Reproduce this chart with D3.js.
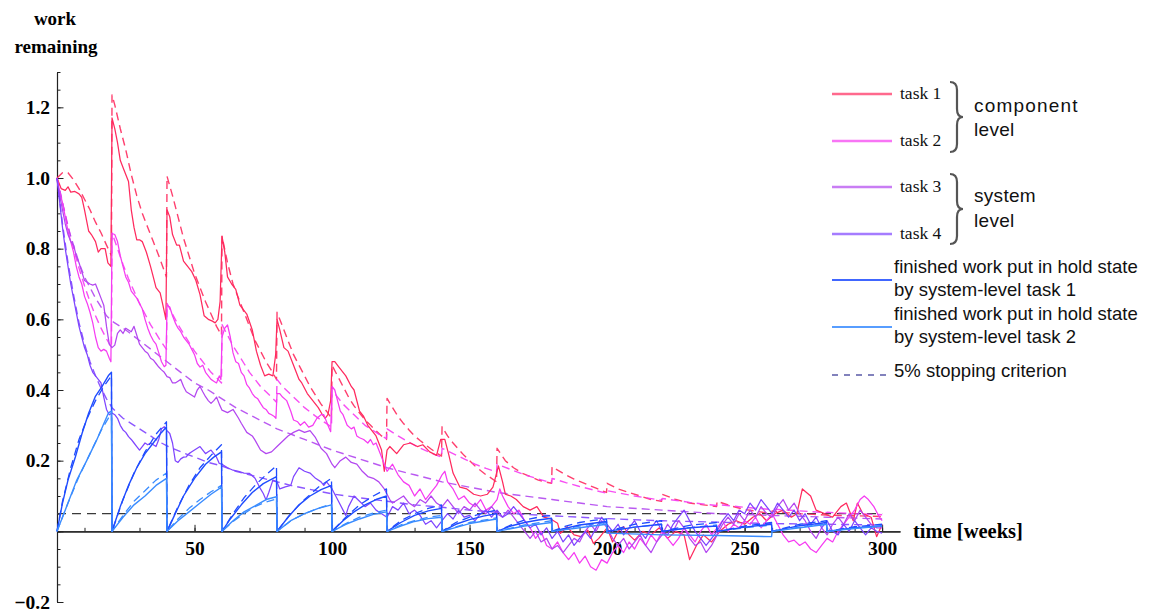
<!DOCTYPE html>
<html>
<head>
<meta charset="utf-8">
<script src="https://cdn.jsdelivr.net/npm/d3@7"></script>
<style>
  html, body { margin: 0; padding: 0; background: #fff; }
  svg { display: block; }
</style>
</head>
<body>
<svg id="chart" width="1154" height="612"></svg>
<script>
// ---- data: work remaining per week (simulation = solid, expected = dashed) ----
const task1Sim = [[0,1.00],[1.5,0.97],[3,0.965],[4,0.975],[5,0.96],[6.5,0.962],[8,0.955],[9,0.945],[10,0.91],[11.5,0.85],[12.5,0.84],[14,0.82],[15,0.79],[16,0.80],[17.5,0.80],[18.5,0.76],[19.6,0.75],
  [20,1.17],[21,1.14],[22,1.10],[23,1.05],[24,1.03],[25,1.01],[26,0.99],[27,0.91],[28,0.86],[29,0.825],[30,0.825],[31,0.82],[32.5,0.79],[34,0.75],[35,0.72],[36,0.69],[37.5,0.675],[38.5,0.64],[39.6,0.60],
  [40,0.91],[41,0.89],[42,0.84],[43.5,0.81],[44.5,0.81],[46,0.765],[47.5,0.75],[49,0.735],[50.5,0.71],[52,0.67],[53.5,0.61],[55,0.60],[56.5,0.595],[57.5,0.59],[58.5,0.60],[59.3,0.65],
  [60,0.835],[61,0.79],[62,0.72],[63.5,0.70],[65,0.685],[66.5,0.64],[69,0.615],[71,0.57],[72.5,0.51],[74,0.47],[75.5,0.44],[77,0.445],[78.5,0.44],[79.5,0.50],
  [80,0.60],[81,0.57],[82.5,0.52],[84,0.51],[86,0.47],[88,0.43],[89,0.42],[91,0.39],[93,0.37],[95,0.35],[96.5,0.33],[97.5,0.32],[98.5,0.33],[99.5,0.37],
  [100,0.48],[101,0.48],[102.5,0.465],[105,0.44],[107,0.41],[108,0.40],[110,0.34],[111.5,0.325],[113,0.30],[116,0.27],[118,0.23],[119,0.17],
  [120,0.23],[121,0.24],[123.5,0.22],[126,0.245],[128.5,0.25],[131,0.24],[133,0.245],[135.5,0.225],[138,0.215],[139.5,0.26],[141,0.26],[142.5,0.215],[144,0.165],[146.5,0.125],[149,0.12],[151.5,0.105],[154,0.10],[156.5,0.105],[158.5,0.125],[159.5,0.155],
  [160.5,0.185],[162,0.14],[163,0.105],[165,0.10],[167,0.09],[169.5,0.07],[172,0.06],[174.5,0.07],[177,0.04],[179.5,0.035],[182,0.023],[183,-0.006],[185.5,0.013],[188,-0.01],[190.5,-0.015],[193,0.003],[195,-0.034],[197,-0.02],
  [200,0.01],[202,-0.03],[204,0.0],[206,0.013],[208,-0.01],[210,-0.025],[213,0.0],[216,-0.01],[219,0.01],[222,-0.02],[225,0.0],[228,-0.01],[230,-0.08],[232.5,-0.04],[235,-0.01],[238,-0.03],[241,0.0],[244,0.02],[247,0.03],
  [250,0.02],[253,0.04],[255.5,0.05],[258,0.03],[261,0.05],[264,0.06],[267,0.04],[269,0.05],[271,0.12],[274,0.10],[276,0.06],[279,0.05],[282,0.04],[285,0.07],[287,0.08],[289.5,0.03],[291,0.08],[293,0.05],[296,0.04],[298,-0.015],[300,0.02]];

const task1Exp = [[0,1.0],[2,1.015],[4,1.015],[6,0.995],[8,0.97],[10,0.94],[12,0.91],[14,0.875],[16,0.845],[18,0.81],[19.8,0.78],
  [20,1.235],[21,1.207],[23,1.14],[25,1.08],[27,1.01],[29,0.95],[31,0.90],[33,0.86],[35,0.82],[37,0.78],[39.8,0.72],
  [40,1.005],[42,0.95],[44,0.89],[46,0.83],[48,0.78],[50,0.73],[52,0.69],[54,0.65],[56,0.615],[58,0.58],[59.8,0.555],
  [60,0.835],[62,0.76],[64,0.70],[66,0.66],[68,0.62],[70,0.58],[72,0.54],[74,0.51],[76,0.48],[78,0.455],[79.8,0.43],
  [80,0.62],[82,0.58],[84,0.54],[86,0.50],[88,0.47],[90,0.44],[92,0.41],[94,0.385],[96,0.36],[98,0.34],[99.8,0.32],
  [100,0.47],[102,0.44],[104,0.41],[106,0.38],[108,0.355],[110,0.335],[112,0.315],[114,0.30],[116,0.285],[118,0.27],[119.8,0.26],
  [120,0.376],[122,0.35],[124,0.325],[126,0.305],[128,0.287],[130,0.27],[132,0.257],[134,0.245],[136,0.233],[138,0.222],[139.8,0.213],
  [140,0.296],[142,0.27],[144,0.25],[146,0.232],[148,0.215],[150,0.2],[152,0.185],[154,0.172],[156,0.16],[158,0.15],[159.8,0.14],
  [160,0.235],[163,0.2],[166,0.18],[169,0.165],[172,0.155],[175,0.145],[177.5,0.14],[179.8,0.136],
  [180,0.183],[184,0.164],[188,0.148],[192,0.135],[196,0.122],[199.8,0.11],
  [200,0.136],[204,0.12],[208,0.11],[212,0.1],[216,0.09],[219.8,0.085],
  [220,0.105],[225,0.09],[230,0.08],[235,0.075],[239.8,0.07],
  [240,0.085],[245,0.072],[250,0.062],[255,0.056],[259.8,0.05],
  [260,0.058],[265,0.053],[270,0.05],[275,0.048],[280,0.046],[285,0.045],[290,0.044],[295,0.043],[300,0.042]];

const task2Sim = [[0,1.0],[1,0.96],[2,0.93],[3,0.89],[4,0.85],[5,0.82],[6,0.79],[7,0.75],[8,0.72],[9,0.70],[10,0.665],[11,0.645],[12,0.62],[13,0.59],[14,0.55],[15,0.52],[16,0.51],[17,0.515],[18,0.51],[19,0.49],[19.6,0.48],
  [20,0.843],[21,0.84],[22,0.82],[23,0.78],[24,0.75],[25,0.72],[26,0.705],[27,0.68],[28,0.67],[29,0.66],[30,0.645],[31,0.63],[32,0.60],[33,0.575],[34,0.555],[35,0.54],[36,0.53],[37,0.505],[38,0.48],[39,0.466],[39.6,0.47],
  [40,0.64],[41,0.635],[42,0.61],[43,0.59],[44,0.575],[45,0.565],[46,0.55],[47,0.54],[48,0.53],[49,0.515],[50,0.50],[51,0.475],[52,0.465],[53,0.47],[54,0.45],[55,0.44],[56,0.43],[57,0.425],[58,0.42],[59,0.44],[59.6,0.43],
  [60,0.55],[61,0.575],[62,0.584],[63,0.55],[64,0.505],[65,0.48],[66,0.475],[67,0.45],[68,0.44],[69,0.415],[70,0.405],[71,0.39],[72,0.38],[73,0.375],[74,0.362],[75,0.35],[76,0.345],[77,0.334],[78,0.33],[79,0.325],[79.6,0.32],
  [80,0.39],[81,0.39],[82,0.38],[83.5,0.37],[85,0.34],[86,0.315],[87.5,0.31],[88.5,0.30],[90,0.31],[91.5,0.295],[93,0.30],[94.5,0.32],[96,0.33],[97,0.33],[98.5,0.30],[99.5,0.282],
  [100,0.41],[101,0.40],[102,0.37],[103,0.34],[104,0.33],[105.5,0.30],[107,0.29],[108,0.295],[109,0.27],[110,0.265],[111.5,0.26],[113,0.25],[114,0.26],[115,0.245],[116,0.25],[117,0.23],[118,0.21],[119,0.19],
  [120,0.17],[122,0.19],[124,0.16],[126,0.14],[128,0.13],[130,0.10],[132,0.12],[134,0.09],[136,0.11],[138,0.13],[140,0.16],[141,0.17],[142,0.14],[144,0.12],[146,0.09],[148,0.10],[150,0.08],[152,0.07],[154,0.09],[156,0.06],[158,0.07],
  [160,0.09],[161,0.12],[162,0.10],[164,0.07],[166,0.05],[168,0.06],[170,0.03],[172,0.01],[174,-0.02],[176,0.0],[178,-0.04],[180,-0.05],[182,-0.03],[184,-0.06],[186,-0.08],[188,-0.06],[190,-0.09],[192,-0.07],[194,-0.1],[196,-0.11],[198,-0.08],
  [200,-0.09],[202,-0.06],[204,-0.04],[206,-0.06],[208,-0.03],[210,-0.05],[212,-0.02],[214,-0.04],[216,-0.01],[218,-0.03],[220,0.0],[222,-0.02],[224,-0.04],[226,-0.02],[228,0.01],[230,-0.01],[232,-0.03],[234,0.0],[236,0.02],[238,-0.01],
  [240,0.01],[242,0.03],[244,0.0],[246,0.02],[248,0.01],[250,0.03],[252,0.02],[254,0.04],[256,0.01],[258,0.03],[260,0.05],[262,0.02],[264,-0.01],[266,-0.03],[268,-0.025],[270,-0.04],[272,-0.03],[274,-0.05],[276,-0.06],[278,-0.04],
  [280,-0.02],[282,-0.03],[284,0.0],[286,0.02],[288,0.04],[290,0.06],[292,0.09],[293.5,0.10],[295,0.09],[297,0.07],[299,0.04],[300,0.03]];

const task2Exp = [[0,1.0],[2,0.93],[4,0.865],[6,0.80],[8,0.745],[10,0.695],[12,0.65],[14,0.61],[16,0.575],[18,0.545],[19.8,0.52],
  [20,0.845],[22,0.80],[24,0.755],[26,0.715],[28,0.68],[30,0.645],[32,0.615],[34,0.585],[36,0.56],[38,0.535],[39.8,0.515],
  [40,0.645],[42,0.615],[44,0.585],[46,0.56],[48,0.535],[50,0.51],[52,0.49],[54,0.47],[56,0.45],[58,0.435],[59.8,0.42],
  [60,0.585],[62,0.555],[64,0.525],[66,0.5],[68,0.475],[70,0.45],[72,0.43],[74,0.41],[76,0.395],[78,0.38],[79.8,0.365],
  [80,0.43],[82,0.41],[84,0.395],[86,0.38],[88,0.365],[90,0.35],[92,0.338],[94,0.326],[96,0.315],[98,0.305],[99.8,0.295],
  [100,0.4],[102,0.38],[104,0.36],[106,0.345],[108,0.33],[110,0.315],[112,0.3],[114,0.29],[116,0.28],[118,0.27],[119.8,0.262],
  [120,0.29],[124,0.27],[128,0.252],[132,0.236],[136,0.222],[139.8,0.21],
  [140,0.235],[144,0.22],[148,0.205],[152,0.19],[156,0.178],[159.8,0.168],
  [160,0.19],[165,0.175],[170,0.16],[175,0.148],[179.8,0.137],
  [180,0.15],[185,0.138],[190,0.127],[195,0.117],[199.8,0.108],
  [200,0.115],[210,0.1],[219.8,0.088],[220,0.093],[230,0.082],[239.8,0.073],
  [240,0.076],[250,0.068],[259.8,0.062],[260,0.063],[270,0.058],[279.8,0.053],
  [280,0.054],[290,0.05],[300,0.047]];

const task3Sim = [[0,1.0],[1,0.95],[2,0.91],[3,0.87],[4,0.84],[5,0.82],[6,0.81],[7,0.78],[8,0.76],[9,0.735],[10,0.71],[11,0.705],[12,0.70],[13,0.697],[14,0.70],[15,0.68],[16,0.66],[17,0.64],[18,0.58],[19,0.53],
  [20,0.52],[21,0.527],[22,0.56],[23,0.57],[24,0.56],[25,0.575],[26,0.57],[27,0.565],[28,0.58],[29,0.555],[30,0.53],[31,0.52],[32,0.51],[33,0.504],[34,0.49],[35,0.485],[36,0.475],[37,0.465],[38,0.457],[39,0.45],
  [40,0.438],[41,0.435],[42,0.42],[43,0.42],[44,0.425],[45,0.43],[46,0.41],[47,0.395],[48,0.39],[49,0.385],[50,0.38],[51,0.40],[52,0.41],[53,0.395],[54,0.381],[55,0.37],[56,0.362],[57,0.37],[58,0.38],[59,0.36],
  [60,0.343],[62,0.336],[64,0.345],[66,0.32],[67,0.306],[69,0.28],[71,0.27],[72,0.258],[74,0.23],[76,0.22],[78,0.225],
  [80,0.24],[82,0.255],[84,0.27],[86,0.28],[88,0.287],[90,0.28],[92,0.285],[94,0.265],[96,0.235],[98,0.22],
  [100,0.19],[101,0.18],[103,0.20],[105,0.21],[107,0.195],[109,0.19],[111,0.17],[113,0.155],[115,0.15],[117,0.14],[119,0.12],
  [121,0.09],[122,0.08],[124,0.09],[126,0.1],[128,0.08],[130,0.07],[132,0.09],[134,0.08],[136,0.1],[138,0.08],
  [140,0.07],[142,0.09],[144,0.07],[146,0.05],[148,0.07],[150,0.06],[152,0.08],[154,0.06],[156,0.05],[158,0.07],
  [160,0.05],[162,0.04],[164,0.06],[166,0.04],[168,0.02],[170,0.0],[172,-0.02],[174,0.0],[176,-0.03],[178,-0.02],
  [180,-0.05],[182,-0.04],[184,-0.06],[186,-0.04],[188,-0.02],[190,-0.03],[192,0.0],[194,0.02],[196,0.0],[198,0.03],
  [200,0.01],[202,-0.02],[204,-0.04],[206,-0.02],[208,-0.05],[210,-0.03],[212,-0.01],[214,-0.04],[216,-0.06],[218,-0.03],
  [220,-0.01],[222,0.02],[224,0.0],[226,0.03],[228,0.01],[230,-0.02],[232,-0.04],[234,-0.03],[236,-0.06],[238,-0.04],
  [240,-0.01],[242,0.02],[244,0.04],[246,0.02],[248,0.05],[250,0.03],[252,0.06],[254,0.04],[256,0.07],[258,0.05],
  [260,0.04],[262,0.07],[264,0.09],[266,0.06],[268,0.08],[270,0.05],[272,0.03],[274,0.0],[276,-0.02],[278,0.01],
  [280,-0.01],[282,0.02],[284,0.04],[286,0.02],[288,0.05],[290,0.03],[292,0.06],[294,0.04],[296,0.02],[298,0.01],[300,0.01]];

const task3Exp = [[0,1.0],[2,0.93],[4,0.86],[6,0.81],[8,0.76],[10,0.72],[12,0.69],[14,0.66],[16,0.635],[18,0.61],[20,0.595],
  [25,0.57],[30,0.54],[35,0.51],[40,0.48],[45,0.45],[50,0.42],[55,0.40],[60,0.375],[65,0.35],[70,0.33],[75,0.31],[80,0.29],
  [85,0.275],[90,0.26],[95,0.245],[100,0.23],[110,0.205],[120,0.18],[130,0.16],[140,0.14],[150,0.125],[160,0.11],[170,0.1],
  [180,0.09],[190,0.08],[200,0.07],[220,0.06],[240,0.05],[260,0.045],[280,0.04],[300,0.035]];

const task4Sim = [[0,1.0],[1,0.93],[2,0.86],[3,0.80],[4,0.75],[5,0.70],[6,0.66],[7,0.62],[8,0.58],[9,0.55],[10,0.52],[11,0.50],[12,0.47],[13,0.45],[14,0.44],[15,0.43],[16,0.42],[17,0.38],[18,0.345],[19,0.33],
  [20,0.335],[21,0.33],[22,0.32],[23,0.30],[24,0.287],[25,0.28],[26,0.268],[27,0.26],[28,0.25],[29,0.24],[30,0.23],[31,0.24],[32,0.25],[33,0.245],[34,0.25],[35,0.245],[36,0.24],[37,0.26],[38,0.29],[39,0.296],
  [40,0.285],[41,0.277],[42,0.25],[43,0.2],[44,0.195],[45,0.205],[46,0.21],[47,0.211],[48,0.22],[49,0.225],[50,0.23],[52,0.24],[53,0.23],[54,0.22],[55,0.225],[56,0.23],[57,0.22],[58,0.21],[59,0.192],
  [60,0.19],[62,0.18],[64,0.173],[66,0.17],[68,0.165],[70,0.164],[72,0.15],[74,0.12],[75,0.107],[76,0.089],[77,0.11],[78.5,0.145],
  [80,0.14],[81,0.12],[83,0.126],[85,0.13],[86,0.155],[88,0.18],[90,0.17],[92,0.165],[94,0.15],[96,0.14],[97,0.13],[98,0.14],
  [100,0.12],[102,0.09],[104,0.06],[105,0.045],[106,0.07],[108,0.1],[110,0.085],[112,0.07],[114,0.08],[116,0.06],[118,0.05],
  [120,0.04],[122,0.07],[124,0.06],[126,0.08],[128,0.05],[130,0.06],[132,0.045],[134,0.02],[136,0.03],[138,0.01],
  [140,0.03],[142,0.05],[144,0.035],[146,0.06],[148,0.04],[150,0.045],[152,0.03],[154,0.05],[156,0.06],[158,0.04],
  [160,0.06],[162,0.04],[164,0.05],[166,0.07],[168,0.05],[170,0.03],[172,0.01],[174,0.02],[176,-0.01],[178,0.01],
  [180,-0.02],[182,0.0],[184,-0.03],[186,-0.01],[188,-0.04],[190,-0.02],[192,0.0],[194,-0.02],[196,0.01],[198,0.04],
  [200,0.02],[202,0.0],[204,0.02],[206,-0.01],[208,0.01],[210,0.03],[212,0.0],[214,-0.02],[216,0.01],[218,0.03],
  [220,0.0],[222,-0.01],[224,0.02],[226,0.04],[228,0.06],[230,0.03],[232,0.0],[234,-0.02],[236,-0.04],[238,-0.02],
  [240,0.0],[242,0.03],[244,0.05],[246,0.03],[248,0.06],[250,0.05],[252,0.08],[254,0.06],[256,0.09],[258,0.07],
  [260,0.05],[262,0.08],[264,0.06],[266,0.04],[268,0.06],[270,0.03],[272,0.05],[274,0.02],[276,0.04],[278,0.01],
  [280,0.03],[282,0.0],[284,-0.01],[286,0.02],[288,0.0],[290,0.03],[292,0.01],[294,-0.01],[296,0.01],[298,0.0],[300,-0.005]];

const task4Exp = [[0,1.0],[2,0.87],[4,0.76],[6,0.67],[8,0.59],[10,0.53],[12,0.48],[14,0.44],[16,0.405],[18,0.375],[20,0.35],
  [22,0.335],[24,0.32],[26,0.31],[28,0.30],[30,0.29],[32,0.28],[34,0.27],[36,0.26],[38,0.25],[40,0.242],[45,0.225],[50,0.21],
  [55,0.195],[60,0.185],[65,0.17],[70,0.16],[75,0.15],[80,0.14],[85,0.13],[90,0.122],[95,0.114],[100,0.106],[110,0.095],
  [120,0.085],[130,0.075],[140,0.068],[150,0.06],[160,0.054],[170,0.048],[180,0.044],[190,0.04],[200,0.036],[220,0.03],
  [240,0.026],[260,0.022],[280,0.02],[300,0.018]];

// finished work held back by the two system-level tasks (released every 20 weeks)
const hold1Sim = [[0,0],[2,0.08],[4,0.145],[6.7,0.211],[9.1,0.277],[11.5,0.334],[13.9,0.381],[16.4,0.41],[18.8,0.442],[19.8,0.45],
  [20,0],[23,0.07],[26,0.13],[29,0.18],[32,0.22],[35,0.25],[38,0.28],[39.8,0.295],
  [40,0],[43,0.05],[46,0.1],[50,0.15],[54,0.19],[57,0.21],[59.8,0.225],
  [60,0],[63,0.035],[67,0.075],[71,0.11],[75,0.135],[79.8,0.155],
  [80,0],[84,0.04],[88,0.075],[92,0.1],[96,0.118],[99.8,0.13],
  [100,0],[104,0.03],[108,0.055],[112,0.075],[116,0.09],[119.8,0.1],
  [120,0],[125,0.025],[130,0.045],[135,0.058],[139.8,0.065],
  [140,0],[145,0.02],[150,0.033],[155,0.043],[159.8,0.05],
  [160,0],[165,0.015],[170,0.025],[175,0.032],[179.8,0.037],
  [180,0],[190,0.018],[199.8,0.028],
  [200,0],[210,0.012],[219.8,0.02],
  [220,0],[230,0.01],[239.8,0.015],
  [240,0],[250,0.012],[259.8,0.02],
  [260,0],[270,0.016],[279.8,0.025],
  [280,0],[290,0.01],[300,0.015]];

const hold1Exp = [[0,0],[2,0.085],[5,0.18],[8,0.26],[11,0.32],[14,0.37],[17,0.41],[19.8,0.44],
  [20,0],[24,0.09],[28,0.165],[32,0.225],[36,0.275],[39.8,0.31],
  [40,0],[44,0.07],[48,0.13],[52,0.18],[56,0.215],[59.8,0.245],
  [60,0],[64,0.05],[68,0.095],[72,0.13],[76,0.16],[79.8,0.185],
  [80,0],[85,0.05],[90,0.09],[95,0.125],[99.8,0.15],
  [100,0],[105,0.04],[110,0.075],[115,0.1],[119.8,0.12],
  [120,0],[125,0.03],[130,0.05],[135,0.065],[139.8,0.075],
  [140,0],[145,0.025],[150,0.04],[155,0.052],[159.8,0.06],
  [160,0],[165,0.018],[170,0.032],[175,0.04],[179.8,0.045],
  [180,0],[185,0.015],[190,0.025],[195,0.031],[199.8,0.035],
  [200,0],[210,0.02],[219.8,0.03],
  [220,0],[230,0.017],[239.8,0.025],
  [240,0],[250,0.015],[259.8,0.025],
  [260,0],[270,0.02],[279.8,0.03],
  [280,0],[290,0.013],[300,0.02]];

const hold2Sim = [[0,0],[3.5,0.07],[7.2,0.145],[10.8,0.2],[14.4,0.258],[18.7,0.335],[19.8,0.34],
  [20,0],[24,0.04],[28,0.075],[32,0.1],[36,0.13],[39.8,0.15],
  [40,0],[44,0.03],[48,0.055],[52,0.08],[56,0.105],[59.8,0.125],
  [60,0],[64,0.03],[68,0.055],[72,0.072],[76,0.09],[79.8,0.098],
  [80,0],[85,0.03],[90,0.05],[95,0.065],[99.8,0.075],
  [100,0],[105,0.02],[110,0.035],[115,0.048],[119.8,0.055],
  [120,0],[125,0.015],[130,0.028],[135,0.036],[139.8,0.04],
  [140,0],[150,0.022],[159.8,0.035],
  [160,0],[170,0.015],[179.8,0.025],
  [180,0],[190,0.01],[199.8,0.02],
  [200,-0.005],[220,-0.01],[240,-0.012],[259.8,-0.015],
  [260,0],[270,0.01],[279.8,0.02],
  [280,0],[290,0.008],[300,0.015]];

const hold2Exp = [[0,0],[4,0.08],[8,0.155],[12,0.22],[16,0.285],[19.8,0.335],
  [20,0],[24,0.045],[28,0.085],[32,0.115],[36,0.145],[39.8,0.165],
  [40,0],[44,0.035],[48,0.065],[52,0.09],[56,0.112],[59.8,0.13],
  [60,0],[64,0.028],[68,0.05],[72,0.07],[76,0.083],[79.8,0.092],
  [80,0],[85,0.03],[90,0.05],[95,0.065],[99.8,0.078],
  [100,0],[105,0.022],[110,0.04],[115,0.052],[119.8,0.06],
  [120,0],[125,0.018],[130,0.03],[135,0.04],[139.8,0.045],
  [140,0],[150,0.025],[159.8,0.038],
  [160,0],[170,0.018],[179.8,0.03],
  [180,0],[190,0.015],[199.8,0.025],
  [200,0],[210,0.012],[219.8,0.02],
  [220,0],[230,0.01],[239.8,0.018],
  [240,0],[250,0.01],[259.8,0.018],
  [260,0],[270,0.012],[279.8,0.02],
  [280,0],[290,0.01],[300,0.015]];

const stopLevel = 0.05;
const stopSpan = [0, 300];

// ---- axis ticks ----
const yMajorTicks = [-0.2, 0, 0.2, 0.4, 0.6, 0.8, 1.0, 1.2];
const yMinorTicks = d3.range(-0.2, 1.3001, 0.05).map(v => +v.toFixed(2));
const xMajorTicks = [0, 50, 100, 150, 200, 250, 300];
const xMinorTicks = d3.range(0, 301, 10);

// ---- legend entries ----
const taskLegend = ["task 1", "task 2", "task 3", "task 4"];
const holdLegend = [["finished work put in hold state", "by system-level task 1"],
                    ["finished work put in hold state", "by system-level task 2"]];
const stopLegend = "5% stopping criterion";

// ---- styles ----
const C = {
  task1: "#ff2a5e", task2: "#f63cf2", task3: "#b347f0", task4: "#7f45ff",
  hold1: "#1f4cff", hold2: "#3a8cff", stop: "#3a3a3a", stopLegend: "#5a5aa6"
};
const serif = "'Liberation Serif', 'Times New Roman', serif";
const sans = "'Liberation Sans', Arial, sans-serif";

const svg = d3.select("#chart");
const x = d3.scaleLinear().domain([0, 306.5]).range([57, 900]);
const y = d3.scaleLinear().domain([-0.2, 1.3]).range([602, 72]);
const line = d3.line().x(d => x(d[0])).y(d => y(d[1]));

// ---- axes ----
const axisColor = "#222";
const yMinor = svg.append("g").attr("transform", `translate(${x(0)},0)`)
  .call(d3.axisLeft(y).tickValues(yMinorTicks).tickSizeInner(-3.5).tickSizeOuter(0).tickFormat(""));
const yMajor = svg.append("g").attr("transform", `translate(${x(0)},0)`)
  .call(d3.axisLeft(y).tickValues(yMajorTicks).tickSizeInner(-6.5).tickSizeOuter(0).tickPadding(7)
    .tickFormat(v => v === 0 ? "" : d3.format(".1f")(v)));
const xMinor = svg.append("g").attr("transform", `translate(0,${y(0)})`)
  .call(d3.axisBottom(x).tickValues(xMinorTicks).tickSizeInner(-3.5).tickSizeOuter(0).tickFormat(""));
const xMajor = svg.append("g").attr("transform", `translate(0,${y(0)})`)
  .call(d3.axisBottom(x).tickValues(xMajorTicks).tickSizeInner(-6.5).tickSizeOuter(0).tickPadding(10)
    .tickFormat(v => v === 0 ? "" : String(v)));
[yMinor, yMajor, xMinor, xMajor].forEach(g => {
  g.selectAll("path.domain").attr("stroke", axisColor).attr("stroke-width", 1.1);
  g.selectAll(".tick line").attr("stroke", axisColor).attr("stroke-width", 1);
  g.selectAll(".tick text").attr("font-family", serif).attr("font-size", 19.5)
    .attr("font-weight", "bold").attr("fill", "#000");
});

svg.append("text").attr("x", 55).attr("y", 25).attr("text-anchor", "middle")
  .attr("font-family", serif).attr("font-size", 19).attr("font-weight", "bold").text("work");
svg.append("text").attr("x", 56).attr("y", 53).attr("text-anchor", "middle")
  .attr("font-family", serif).attr("font-size", 19).attr("font-weight", "bold").text("remaining");
svg.append("text").attr("x", 913).attr("y", 538)
  .attr("font-family", serif).attr("font-size", 20.5).attr("font-weight", "bold").text("time [weeks]");

// ---- series ----
const plot = svg.append("g").attr("fill", "none").attr("stroke-linejoin", "round");

plot.append("path").datum(stopSpan.map(t => [t, stopLevel])).attr("d", line)
  .attr("stroke", C.stop).attr("stroke-width", 1.4).attr("stroke-dasharray", "9,6");

const solidSeries = [[task1Sim, C.task1], [task2Sim, C.task2], [task3Sim, C.task3], [task4Sim, C.task4]];
const dashedSeries = [[task1Exp, C.task1], [task2Exp, C.task2], [task3Exp, C.task3], [task4Exp, C.task4]];
const holdSolid = [[hold1Sim, C.hold1], [hold2Sim, C.hold2]];
const holdDashed = [[hold1Exp, C.hold1], [hold2Exp, C.hold2]];

dashedSeries.forEach(([data, col]) => plot.append("path").datum(data).attr("d", line)
  .attr("stroke", col).attr("stroke-width", 1.4).attr("stroke-dasharray", "8,5").attr("opacity", 0.9));
solidSeries.forEach(([data, col]) => plot.append("path").datum(data).attr("d", line)
  .attr("stroke", col).attr("stroke-width", 1.25));
holdDashed.forEach(([data, col]) => plot.append("path").datum(data).attr("d", line)
  .attr("stroke", col).attr("stroke-width", 1.3).attr("stroke-dasharray", "8,5"));
holdSolid.forEach(([data, col]) => plot.append("path").datum(data).attr("d", line)
  .attr("stroke", col).attr("stroke-width", 1.4));

// ---- legend ----
const lg = svg.append("g");
const taskCols = [C.task1, C.task2, C.task3, C.task4];
const taskY = [94, 141, 187, 234];
taskLegend.forEach((name, i) => {
  lg.append("line").attr("x1", 832).attr("x2", 892).attr("y1", taskY[i]).attr("y2", taskY[i])
    .attr("stroke", taskCols[i]).attr("stroke-width", 2.4).attr("opacity", 0.7);
  lg.append("text").attr("x", 900).attr("y", taskY[i] + 5).attr("font-family", serif)
    .attr("font-size", 17.5).attr("fill", "#111").text(name);
});

// braces grouping component-level and system-level tasks
function brace(top, bottom) {
  const mid = (top + bottom) / 2;
  return `M950,${top} Q957,${top} 957,${top + 8} L957,${mid - 8} Q957,${mid} 963,${mid} ` +
         `Q957,${mid} 957,${mid + 8} L957,${bottom - 8} Q957,${bottom} 950,${bottom}`;
}
lg.append("path").attr("d", brace(82, 152)).attr("fill", "none").attr("stroke", "#555").attr("stroke-width", 2.2);
lg.append("path").attr("d", brace(174, 244)).attr("fill", "none").attr("stroke", "#555").attr("stroke-width", 2.2);
[["component", 112], ["level", 136], ["system", 202], ["level", 227]].forEach(([t, yy]) => {
  lg.append("text").attr("x", 974).attr("y", yy).attr("font-family", sans).attr("font-size", 19)
    .attr("fill", "#111").attr("letter-spacing", t === "component" ? 1.2 : 0.3).text(t);
});

const holdCols = [C.hold1, C.hold2];
const holdY = [280, 327];
holdLegend.forEach((lines, i) => {
  lg.append("line").attr("x1", 832).attr("x2", 892).attr("y1", holdY[i]).attr("y2", holdY[i])
    .attr("stroke", holdCols[i]).attr("stroke-width", 2).attr("opacity", 0.85);
  lines.forEach((t, j) => lg.append("text").attr("x", 894).attr("y", holdY[i] - 7 + j * 22.5)
    .attr("font-family", sans).attr("font-size", 18.5).attr("fill", "#111").text(t));
});
lg.append("line").attr("x1", 832).attr("x2", 892).attr("y1", 375).attr("y2", 375)
  .attr("stroke", C.stopLegend).attr("stroke-width", 1.6).attr("stroke-dasharray", "6,6");
lg.append("text").attr("x", 894).attr("y", 377).attr("font-family", sans).attr("font-size", 18.5)
  .attr("fill", "#111").text(stopLegend);
</script>
</body>
</html>
